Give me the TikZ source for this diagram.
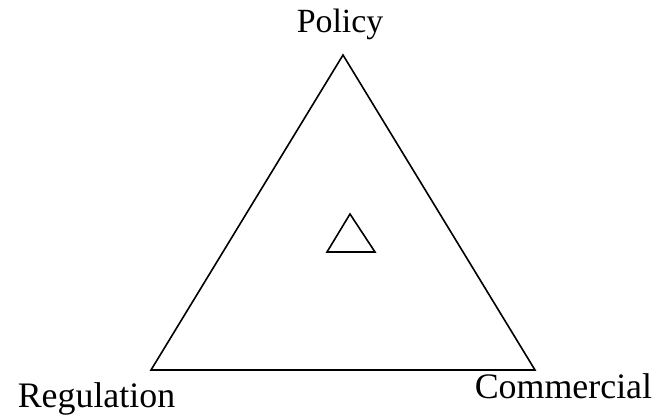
\documentclass[tikz,border=0pt]{standalone}
\usepackage{fontspec}
\setmainfont{Liberation Serif}
\usepackage{tikz}
\usetikzlibrary{positioning}

\begin{document}
\begin{tikzpicture}[x=1bp, y=-1bp, line width=1.6bp,
  corner/.style={font=\fontsize{36}{40}\selectfont, inner sep=0pt, anchor=base west}]
\useasboundingbox (0,0) rectangle (666,418);
%%%%% Corners %%%%%
\coordinate (top) at (343,55);
\coordinate (left) at (151,370);
\coordinate (right) at (535,370);
\coordinate (stop) at (350,214);
\coordinate (sleft) at (327,252);
\coordinate (sright) at (375,252);
\draw[line join=miter] (top)--(right)--(left)--cycle;
\draw[line join=miter] (stop)--(sright)--(sleft)--cycle;
%%%%% Labels %%%%%
\node[corner, font=\fontsize{34}{38}\selectfont] (policy) at (296,32) {Policy};
\node[corner] (regulation) at (17,407) {Regulation};
\node[corner] (commercial) at (474,398) {Commercial};
\end{tikzpicture}
\end{document}
